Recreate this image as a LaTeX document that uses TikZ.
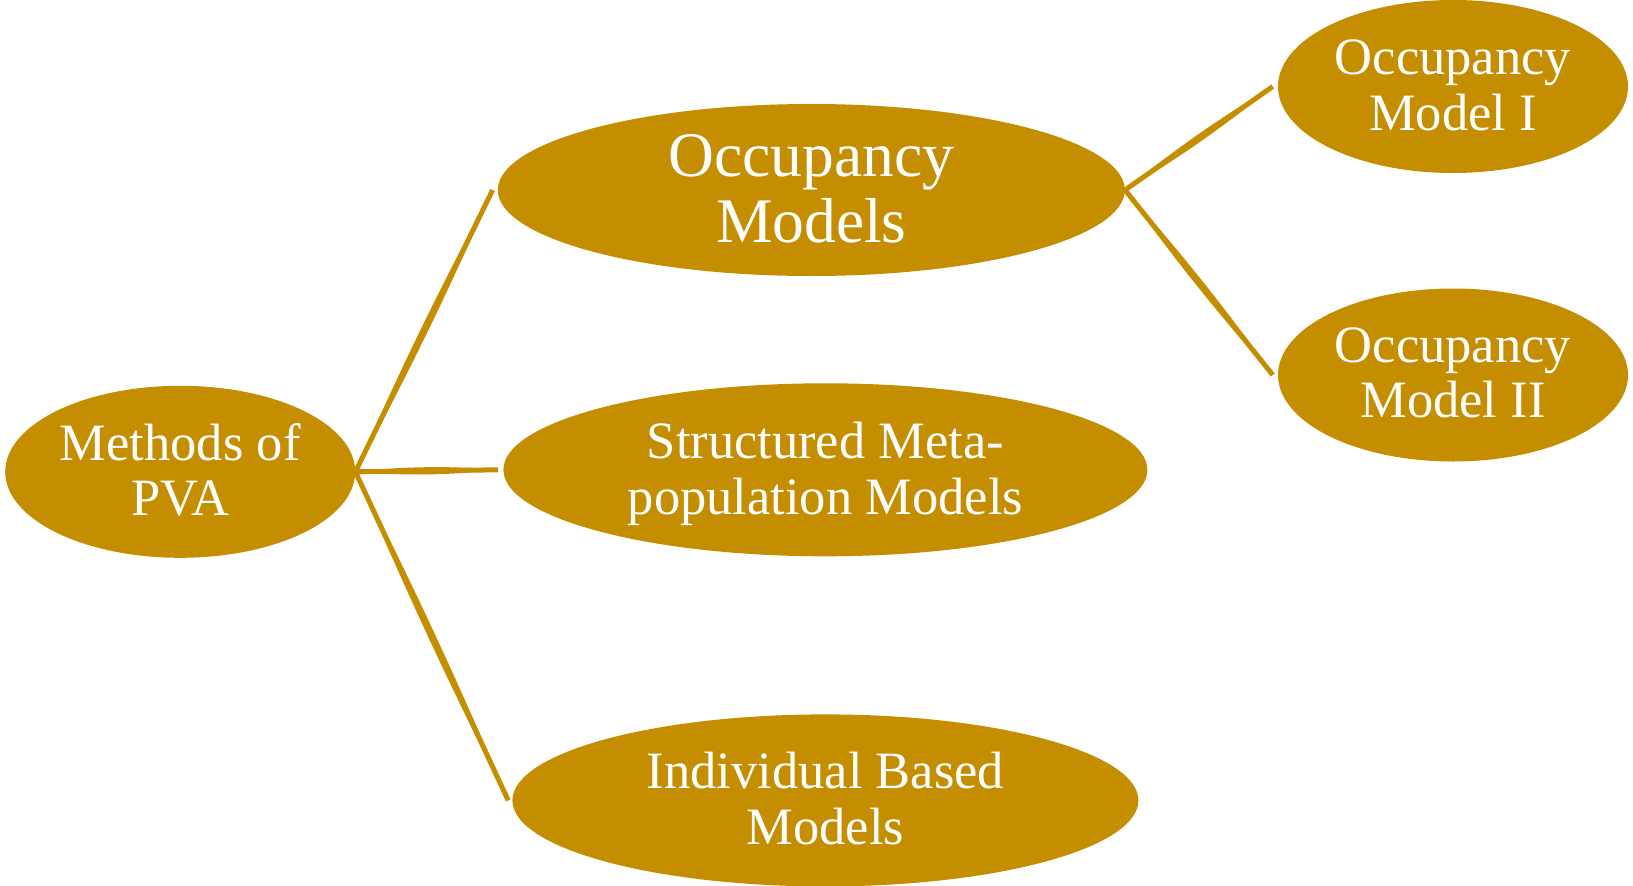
\documentclass[tikz,border=0pt]{standalone}
\usepackage{fontspec}
\setmainfont{Liberation Serif}
\usetikzlibrary{shapes.geometric,calc}
\definecolor{pvagold}{RGB}{196,142,0}

\tikzset{
  bubble/.style={ellipse, fill=pvagold, inner sep=0pt},
  smalltext/.style={text=white, align=center, inner sep=0pt,
    font=\fontsize{52.5}{55.5}\selectfont},
  bigtext/.style={text=white, align=center, inner sep=0pt,
    font=\fontsize{63.5}{65.5}\selectfont},
  linkfill/.style={fill=pvagold},
  linkcore/.style={draw=pvagold, line width=5pt},
}

% a slightly swelling band connecting #1 to #2
\newcommand\branch[2]{%
  \draw[linkcore] (#1) -- (#2);
  \fill[linkfill] (#1)
    .. controls ($(#1)!0.33!(#2)!4.8pt!90:(#2)$) and ($(#1)!0.67!(#2)!4.8pt!90:(#2)$) .. (#2)
    .. controls ($(#1)!0.67!(#2)!4.8pt!-90:(#2)$) and ($(#1)!0.33!(#2)!4.8pt!-90:(#2)$) .. (#1)
    -- cycle;}

\begin{document}
\begin{tikzpicture}[x=1pt, y=-1pt]
  \useasboundingbox (0,0) rectangle (1633,886);

  % ellipses
  \node[bubble, minimum width=350pt, minimum height=172pt] (pva) at (180.2,471.8) {};
  \node[bubble, minimum width=627pt, minimum height=172pt] (occ) at (811.3,190) {};
  \node[bubble, minimum width=644pt, minimum height=173pt] (smp) at (825.4,469.8) {};
  \node[bubble, minimum width=626pt, minimum height=172pt] (ibm) at (825.4,800.4) {};
  \node[bubble, minimum width=350pt, minimum height=173pt] (om1) at (1453,86.5) {};
  \node[bubble, minimum width=350pt, minimum height=173pt] (om2) at (1453,375) {};

  % labels
  \node[smalltext, yshift=1.8pt]  (pvatext) at (pva.center) {Methods of\\PVA};
  \node[bigtext,   yshift=1pt]    (occtext) at (occ.center) {Occupancy\\Models};
  \node[smalltext, yshift=-3.9pt] (smptext) at (smp.center) {Structured Meta-\\population Models};
  \node[smalltext, yshift=2pt]    (ibmtext) at (ibm.center) {Individual Based\\Models};
  \node[smalltext, yshift=1pt]    (om1text) at (om1.center) {Occupancy\\Model I};
  \node[smalltext, yshift=2pt]    (om2text) at (om2.center) {Occupancy\\Model II};

  % connector end points, just short of each child ellipse
  \coordinate (pvaout) at (pva.east);
  \coordinate (occout) at (occ.east);
  \coordinate (occin) at ([xshift=-5pt]occ.west);
  \coordinate (smpin) at ([xshift=-5pt]smp.west);
  \coordinate (ibmin) at ([xshift=-4pt]ibm.west);
  \coordinate (om1in) at ([xshift=-5pt]om1.west);
  \coordinate (om2in) at ([xshift=-5pt]om2.west);

  % connectors
  \branch{pvaout}{occin}
  \branch{pvaout}{smpin}
  \branch{pvaout}{ibmin}
  \branch{occout}{om1in}
  \branch{occout}{om2in}
\end{tikzpicture}
\end{document}
